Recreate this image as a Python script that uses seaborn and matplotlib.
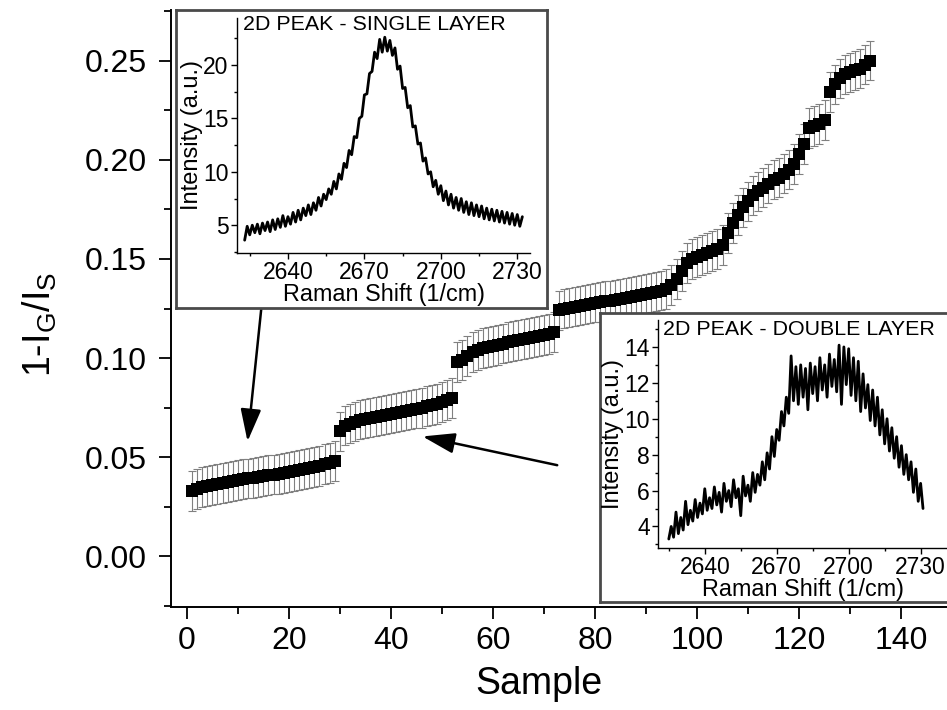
import numpy as np
import pandas as pd
import matplotlib
matplotlib.use("Agg")
import matplotlib.pyplot as plt
from matplotlib.ticker import MultipleLocator
import seaborn as sns

# ---------------- data ----------------
sample = list(range(1, 135))
ratio = [
    0.033, 0.034, 0.035, 0.0355, 0.036, 0.0365, 0.037, 0.0375, 0.038, 0.0385,
    0.039, 0.0393, 0.0397, 0.040, 0.0405, 0.041, 0.0413, 0.0417, 0.042, 0.0425,
    0.043, 0.0435, 0.044, 0.0445, 0.045, 0.0457, 0.0465, 0.047, 0.048,
    0.063, 0.066, 0.067, 0.068, 0.069, 0.0695, 0.070, 0.0705, 0.071, 0.0715,
    0.072, 0.0725, 0.073, 0.0735, 0.074, 0.0745, 0.075, 0.0757, 0.0765, 0.077,
    0.078, 0.079, 0.080,
    0.098, 0.099, 0.101, 0.103, 0.104, 0.105, 0.1055, 0.106, 0.1067, 0.1073,
    0.108, 0.1085, 0.109, 0.1095, 0.110, 0.1105, 0.111, 0.1115, 0.112, 0.113,
    0.124, 0.125, 0.1255, 0.126, 0.1265, 0.127, 0.1275, 0.128, 0.1283, 0.1287,
    0.129, 0.1295, 0.130, 0.1305, 0.131, 0.1315, 0.132, 0.1325, 0.133, 0.1335,
    0.134, 0.135, 0.137, 0.140, 0.144,
    0.148, 0.150, 0.151, 0.152, 0.153, 0.154, 0.155, 0.157, 0.163, 0.168,
    0.172, 0.176, 0.179, 0.182, 0.184, 0.186, 0.188, 0.190, 0.191, 0.193,
    0.195, 0.198, 0.203, 0.208, 0.216, 0.217, 0.218, 0.220, 0.234, 0.238,
    0.241, 0.243, 0.244, 0.245, 0.246, 0.248, 0.250,
]
ratio_err = [0.010] * len(ratio)

single_shift = list(range(2623, 2733))
single_int = [
    3.6, 4.9, 4.1, 5.0, 4.3, 5.1, 4.2, 5.2, 4.5, 5.3,
    4.4, 5.5, 4.6, 5.6, 4.8, 5.9, 4.9, 5.8, 5.1, 6.2,
    5.3, 6.4, 5.5, 6.6, 5.9, 6.9, 6.0, 7.1, 6.4, 7.6,
    6.8, 7.9, 7.4, 8.4, 7.9, 9.1, 8.4, 9.8, 9.3, 10.8,
    10.4, 12.0, 11.6, 13.3, 13.2, 15.0, 15.2, 17.2, 17.3, 19.2,
    19.4, 21.2, 20.6, 22.4, 21.2, 22.6, 21.3, 22.3, 20.9, 21.6,
    19.6, 19.9, 17.8, 17.9, 16.0, 16.2, 14.2, 14.3, 12.6, 12.7,
    11.0, 11.3, 9.8, 10.0, 8.6, 9.2, 7.9, 8.7, 7.3, 8.2,
    6.9, 7.9, 6.6, 7.6, 6.4, 7.5, 6.2, 7.2, 6.0, 7.1,
    5.9, 6.9, 5.8, 6.8, 5.6, 6.6, 5.5, 6.5, 5.4, 6.4,
    5.3, 6.3, 5.2, 6.2, 5.1, 6.1, 5.0, 6.0, 4.9, 5.8,
]

double_shift = list(range(2625, 2732))
double_int = [
    3.3, 4.0, 3.4, 4.8, 3.6, 4.5, 3.8, 5.4, 4.1, 4.9,
    4.3, 5.5, 4.5, 5.3, 4.7, 6.1, 4.9, 5.6, 5.0, 6.2,
    5.2, 5.9, 4.8, 6.4, 5.4, 6.0, 5.1, 6.6, 5.6, 6.1,
    4.6, 6.8, 5.7, 6.3, 5.4, 7.0, 5.9, 6.9, 6.3, 7.6,
    6.6, 8.1, 7.2, 9.0, 7.9, 9.4, 8.8, 10.4, 9.6, 11.2,
    10.3, 13.5, 11.0, 12.9, 10.8, 13.0, 11.2, 12.8, 10.5, 13.1,
    11.4, 12.9, 11.0, 13.4, 11.6, 13.0, 11.2, 13.6, 11.8, 13.3,
    11.5, 14.1, 10.8, 14.0, 11.9, 13.9, 11.3, 13.4, 11.0, 13.2,
    10.4, 12.5, 10.6, 11.9, 9.9, 11.6, 9.6, 11.2, 9.1, 10.5,
    8.6, 10.0, 8.2, 9.5, 7.8, 9.0, 7.3, 8.5, 6.9, 8.0,
    6.6, 7.6, 5.9, 7.2, 5.4, 6.4, 5.0,
]

x_ticks = [0, 20, 40, 60, 80, 100, 120, 140]
y_ticks = [0.00, 0.05, 0.10, 0.15, 0.20, 0.25]
inset_x_ticks = [2640, 2670, 2700, 2730]
single_y_ticks = [5, 10, 15, 20]
double_y_ticks = [4, 6, 8, 10, 12, 14]

# ---------------- style ----------------
sns.set_theme(style="ticks")
plt.rcParams["font.family"] = ["Liberation Sans", "DejaVu Sans"]
plt.rcParams["mathtext.fontset"] = "custom"
plt.rcParams["mathtext.rm"] = "Liberation Sans"
plt.rcParams["mathtext.it"] = "Liberation Sans:italic"

W, H = 947, 710
fig = plt.figure(figsize=(W / 100, H / 100), dpi=100)


def px_axes(l, t, r, b):
    return fig.add_axes([l / W, 1 - b / H, (r - l) / W, (b - t) / H])


# ---------------- main axes ----------------
ax = px_axes(171, 10, 947, 607)
main_df = pd.DataFrame({"sample": sample, "ratio": ratio, "err": ratio_err})
ax.errorbar(main_df["sample"], main_df["ratio"], yerr=main_df["err"], fmt="none",
            ecolor="#808080", elinewidth=0.8, capsize=3.2, capthick=0.8, zorder=2)
sns.scatterplot(data=main_df, x="sample", y="ratio", marker="s", s=78,
                color="black", edgecolor="black", linewidth=0, ax=ax, zorder=3,
                legend=False)
ax.set_xlim(-3.1, 149)
ax.set_ylim(-0.0255, 0.2755)
ax.set_xticks(x_ticks)
ax.set_yticks(y_ticks)
ax.set_yticklabels([f"{v:.2f}" for v in y_ticks])
ax.xaxis.set_minor_locator(MultipleLocator(10))
ax.yaxis.set_minor_locator(MultipleLocator(0.025))
for s in ("top", "right"):
    ax.spines[s].set_visible(False)
for s in ("left", "bottom"):
    ax.spines[s].set_linewidth(1.4)
    ax.spines[s].set_color("black")
ax.tick_params(which="major", direction="out", length=8.5, width=1.3, labelsize=23,
               color="black", labelcolor="black")
ax.tick_params(which="minor", direction="out", length=5, width=1.3, color="black")
ax.tick_params(axis="x", which="major", pad=5)
ax.tick_params(axis="y", which="major", pad=9)
ax.set_xlabel("Sample", fontsize=27, color="black")
ax.set_ylabel(r"1-I$_\mathregular{G}$/I$_\mathregular{S}$", fontsize=27, color="black")
ax.xaxis.set_label_coords((539 - 171) / 776, (607 - 684) / 597)
ax.xaxis.label.set_va("center")
ax.yaxis.set_label_coords((40 - 171) / 776, (607 - 324) / 597)
ax.yaxis.label.set_va("center")

arrow = dict(arrowstyle="-|>,head_length=1.1,head_width=0.35", color="black",
             lw=1.8, mutation_scale=18, shrinkA=0, shrinkB=0)
ax.annotate("", xy=(11.9, 0.058), xytext=(15.0, 0.135), arrowprops=arrow, zorder=4)
ax.annotate("", xy=(46.2, 0.0605), xytext=(72.6, 0.046), arrowprops=arrow, zorder=4)


def make_box(l, t, r, b):
    bx = px_axes(l, t, r, b)
    bx.set_xticks([])
    bx.set_yticks([])
    bx.set_facecolor("white")
    for s in bx.spines.values():
        s.set_edgecolor("#4a4a4a")
        s.set_linewidth(2.0)
        s.set_visible(True)
    return bx


def style_inset(ia, xlim, ylim, yticks, yminor):
    ia.set_xlim(*xlim)
    ia.set_ylim(*ylim)
    ia.set_xticks(inset_x_ticks)
    ia.set_yticks(yticks)
    ia.xaxis.set_minor_locator(MultipleLocator(15))
    ia.yaxis.set_minor_locator(MultipleLocator(yminor))
    ia.patch.set_alpha(0)
    for s in ("top", "right"):
        ia.spines[s].set_visible(False)
    for s in ("left", "bottom"):
        ia.spines[s].set_linewidth(1.0)
        ia.spines[s].set_color("black")
    ia.tick_params(which="major", direction="out", length=4, width=1.0,
                   labelsize=16.5, pad=2, color="black", labelcolor="black")
    ia.tick_params(which="minor", direction="out", length=2.5, width=1.0, color="black")
    ia.set_xlabel("Raman Shift (1/cm)", fontsize=16.8, labelpad=-1, color="black")
    ia.set_ylabel("Intensity (a.u.)", fontsize=17, labelpad=0, color="black")


# ---------------- inset 1: single layer ----------------
make_box(176, 10, 547, 308)
ia1 = px_axes(237, 18, 530, 253)
sdf = pd.DataFrame({"shift": single_shift, "intensity": single_int})
sns.lineplot(data=sdf, x="shift", y="intensity", color="black", lw=2.0, ax=ia1)
style_inset(ia1, (2620, 2735), (2.4, 24.4), single_y_ticks, 2.5)
fig.text(243 / W, 1 - 15 / H, "2D PEAK - SINGLE LAYER", fontsize=15.4,
         ha="left", va="top", color="black")

# ---------------- inset 2: double layer ----------------
make_box(600, 313, 960, 602)
ia2 = px_axes(658, 320, 947, 548)
ddf = pd.DataFrame({"shift": double_shift, "intensity": double_int})
sns.lineplot(data=ddf, x="shift", y="intensity", color="black", lw=2.0, ax=ia2)
style_inset(ia2, (2620.5, 2741), (2.8, 15.5), double_y_ticks, 1)
fig.text(663 / W, 1 - 320 / H, "2D PEAK - DOUBLE LAYER", fontsize=15.4,
         ha="left", va="top", color="black")

fig.savefig("out.png", dpi=100)
